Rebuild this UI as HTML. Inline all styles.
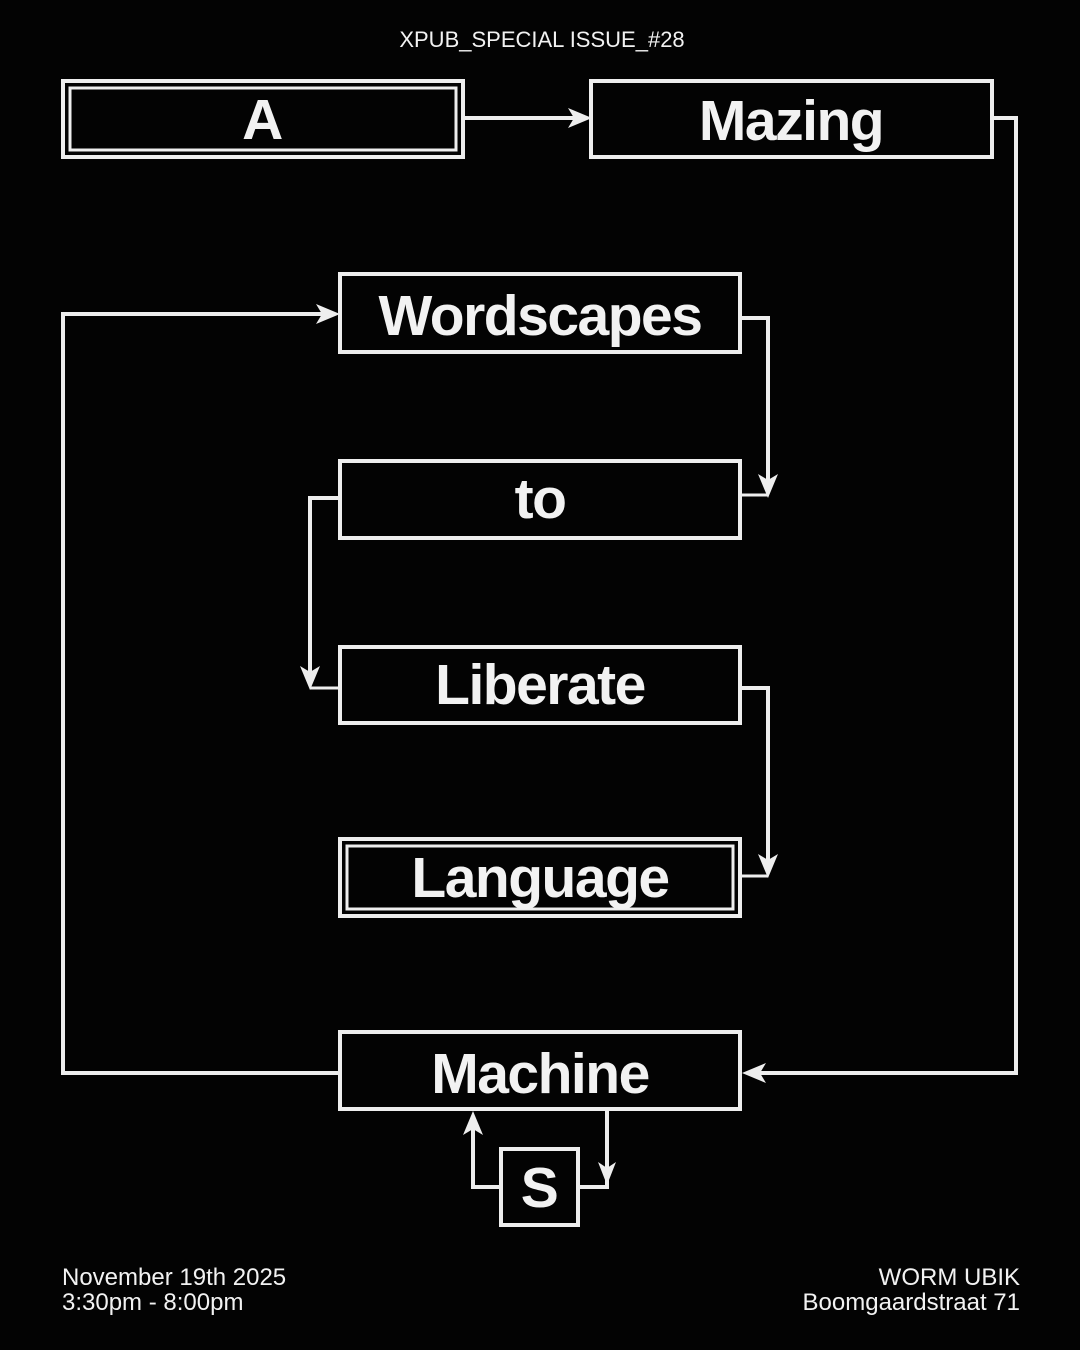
<!DOCTYPE html>
<html><head><meta charset="utf-8"><style>
html,body{margin:0;padding:0;background:#000;}
svg{display:block}
text{font-family:"Liberation Sans",sans-serif;fill:#f2f2f2}
</style></head><body>
<svg width="1080" height="1350" viewBox="0 0 1080 1350" xmlns="http://www.w3.org/2000/svg">
<rect width="1080" height="1350" fill="#030303"/>
<g stroke="#eeeeee" stroke-width="4" fill="none">
<rect x="63" y="81" width="400" height="76"/>
<rect x="70" y="88" width="386" height="62" stroke-width="3"/>
<rect x="591" y="81" width="401" height="76"/>
<rect x="340" y="274" width="400" height="78"/>
<rect x="340" y="461" width="400" height="77"/>
<rect x="340" y="647" width="400" height="76"/>
<rect x="340" y="839" width="400" height="77"/>
<rect x="347" y="846" width="386" height="63" stroke-width="3"/>
<rect x="340" y="1032" width="400" height="77"/>
<rect x="501" y="1149" width="77" height="76"/>
<polyline points="463,118 580,118"/>
<polyline points="992,118 1016,118 1016,1073 755,1073"/>
<polyline points="61,1073 340,1073"/>
<polyline points="63,1073 63,314 328,314"/>
<polyline points="740,318 768,318 768,484"/>
<polyline points="768,495 740,495" stroke-width="3"/>
<polyline points="340,498 310,498 310,676"/>
<polyline points="310,688 340,688" stroke-width="3"/>
<polyline points="740,688 768,688 768,865"/>
<polyline points="768,876 740,876" stroke-width="3"/>
<polyline points="501,1187 473,1187 473,1122"/>
<polyline points="578,1187 607,1187 607,1109"/>
</g>
<g fill="#eeeeee">
<polygon points="592,118 568,108 574,118 568,128"/>
<polygon points="742,1073 766,1063 760,1073 766,1083"/>
<polygon points="340,314 316,304 322,314 316,324"/>
<polygon points="768,498 758,474 768,480 778,474"/>
<polygon points="310,690 300,666 310,672 320,666"/>
<polygon points="768,878 758,854 768,860 778,854"/>
<polygon points="473,1111 463,1135 473,1129 483,1135"/>
<polygon points="607,1185 598,1162 607,1168 616,1162"/>
</g>
<text x="542" y="47" font-size="22" text-anchor="middle">XPUB_SPECIAL ISSUE_#28</text>
<g font-weight="bold" font-size="57" text-anchor="middle" letter-spacing="-1.5">
<text x="262" y="139">A</text>
<text x="791" y="140">Mazing</text>
<text x="540" y="335">Wordscapes</text>
<text x="540" y="518">to</text>
<text x="540" y="704">Liberate</text>
<text x="540" y="897">Language</text>
<text x="540" y="1093">Machine</text>
<text x="539" y="1207">S</text>
</g>
<g font-size="24">
<text x="62" y="1285">November 19th 2025</text>
<text x="62" y="1310">3:30pm - 8:00pm</text>
<text x="1020" y="1285" text-anchor="end">WORM UBIK</text>
<text x="1020" y="1310" text-anchor="end">Boomgaardstraat 71</text>
</g>
</svg>
</body></html>
